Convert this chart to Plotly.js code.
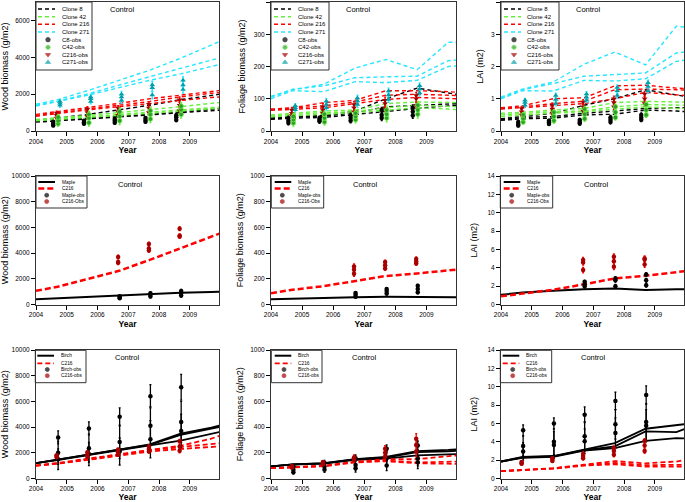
<!DOCTYPE html>
<html><head><meta charset="utf-8">
<script src="https://cdn.plot.ly/plotly-3.0.1.min.js"></script>
<style>html,body{margin:0;padding:0;background:#fff}</style>
</head><body><div id="chart" style="width:685px;height:502px"></div>
<script>
// ---------------- DATA ----------------
const modelYears = [2004, 2004.7, 2005.7, 2006.7, 2007.7, 2008.7, 2009.7, 2010];
const yearTicks = [2004, 2005, 2006, 2007, 2008, 2009];

const obsYearsC8   = [2004.56, 2005.56, 2006.56, 2007.56, 2008.56];
const obsYearsC216 = [2004.67, 2005.67, 2006.67, 2007.67, 2008.67];
const obsYearsC42  = [2004.72, 2005.72, 2006.72, 2007.72, 2008.72];
const obsYearsC271 = [2004.78, 2005.78, 2006.78, 2007.78, 2008.78];
const obsYearsMaple = [2006.72, 2007.72, 2008.72];
const obsYearsC216m = [2006.67, 2007.67, 2008.67];
const obsYearsBirch = [2004.72, 2005.72, 2006.72, 2007.72, 2008.72];
const obsYearsC216b = [2004.67, 2005.67, 2006.67, 2007.67, 2008.67];

// Row 1: clones (3 replicate model runs each)
const woodC8   = [[600,700,900,1150,1400,1700,1950,2000],[520,600,700,800,900,1050,1180,1220],[480,550,650,750,870,1000,1100,1130]];
const woodC42  = [[620,700,850,1000,1150,1320,1500,1550],[580,650,780,900,1020,1150,1270,1300],[550,620,740,850,960,1080,1210,1250]];
const woodC216 = [[900,1050,1300,1500,1750,1950,2150,2200],[850,1000,1200,1400,1600,1850,2050,2080],[800,950,1150,1320,1500,1680,1820,1850]];
const woodC271 = [[1450,1700,2200,2750,3300,3950,4650,4880],[1400,1620,2020,2500,2950,3400,3850,3980],[1350,1580,1950,2350,2750,3100,3500,3620]];
const woodObsC8   = [[300,400,500],[400,480,560],[450,550,650],[500,600,700],[600,750,850]];
const woodErrC8   = [60,60,70,70,90];
const woodObsC42  = [[400,550,750],[450,700,900],[550,800,1050],[650,900,1100],[900,1150,1350]];
const woodErrC42  = [150,180,200,200,200];
const woodObsC216 = [[700,850,980],[800,1000,1200],[850,1050,1250],[1000,1250,1450],[1100,1400,1700]];
const woodErrC216 = [100,120,120,130,150];
const woodObsC271 = [[1400,1500,1600],[1600,1750,1850],[1650,1850,2000],[1950,2350,2500],[2250,2500,2750]];
const woodErrC271 = [120,130,150,200,200];

const folC8   = [[40,45,48,62,100,133,118,113],[38,43,46,57,75,80,85,85],[36,40,42,52,62,70,78,80]];
const folC42  = [[50,55,62,65,85,90,88,88],[47,52,57,60,72,80,75,75],[44,48,52,57,65,72,68,66]];
const folC216 = [[68,72,88,95,125,125,122,120],[66,70,78,90,111,114,111,110],[64,68,72,85,98,104,102,100]];
const folC271 = [[108,127,145,195,222,190,275,275],[105,130,140,165,168,170,218,220],[100,125,122,153,150,157,200,202]];
const folObsC8   = [[25,32,40],[30,35,40],[32,40,48],[40,50,65],[48,60,72]];
const folErrC8   = [6,6,7,8,9];
const folObsC42  = [[25,35,45],[28,40,52],[35,45,55],[40,52,65],[52,65,80]];
const folErrC42  = [10,10,10,12,12];
const folObsC216 = [[48,55,65],[55,65,75],[60,72,82],[70,85,95],[80,100,110]];
const folErrC216 = [8,10,10,10,10];
const folObsC271 = [[66,72,78],[72,82,92],[82,93,102],[98,112,124],[118,130,140]];
const folErrC271 = [7,9,9,9,9];

const laiC8   = [[0.38,0.45,0.55,0.8,1.0,1.28,1.1,1.07],[0.35,0.42,0.45,0.55,0.62,0.7,0.72,0.72],[0.33,0.38,0.4,0.5,0.52,0.65,0.62,0.6]];
const laiC42  = [[0.55,0.58,0.65,0.7,0.88,0.92,0.9,0.9],[0.5,0.55,0.6,0.62,0.75,0.82,0.8,0.8],[0.45,0.5,0.55,0.6,0.68,0.75,0.7,0.7]];
const laiC216 = [[0.72,0.78,1.0,1.03,1.4,1.42,1.33,1.32],[0.7,0.75,0.85,0.92,1.28,1.3,1.28,1.27],[0.68,0.72,0.8,0.85,1.0,1.2,1.12,1.1]];
const laiC271 = [[1.05,1.3,1.52,2.07,2.45,2.05,3.25,3.22],[1.02,1.28,1.47,1.7,1.75,1.8,2.42,2.45],[1.0,1.25,1.24,1.57,1.55,1.62,2.16,2.2]];
const laiObsC8   = [[0.17,0.22,0.28],[0.22,0.27,0.32],[0.23,0.28,0.34],[0.28,0.35,0.42],[0.35,0.42,0.5]];
const laiErrC8   = [0.04,0.04,0.05,0.06,0.06];
const laiObsC42  = [[0.28,0.38,0.5],[0.32,0.45,0.58],[0.38,0.52,0.68],[0.42,0.58,0.75],[0.5,0.65,0.82]];
const laiErrC42  = [0.07,0.08,0.08,0.08,0.08];
const laiObsC216 = [[0.5,0.6,0.7],[0.55,0.68,0.8],[0.62,0.75,0.9],[0.75,0.88,1.0],[0.85,1.0,1.15]];
const laiErrC216 = [0.06,0.07,0.07,0.08,0.08];
const laiObsC271 = [[0.8,0.88,0.95],[0.85,0.98,1.1],[0.95,1.05,1.15],[1.1,1.25,1.35],[1.25,1.38,1.5]];
const laiErrC271 = [0.06,0.07,0.07,0.08,0.08];

// Row 2: Maple vs C216
const mapleWood = [400,480,600,730,830,920,980,1000];
const c216mWood = [1060,1380,2000,2620,3470,4380,5280,5550];
const mapleWoodObs = [[480,580,650],[620,750,880],[700,900,1050]];
const mapleWoodErr = [80,100,120];
const c216mWoodObs = [[3250,3300,3700],[4200,4350,4700],[5300,5350,5900]];
const c216mWoodErr = [150,150,150];
const mapleFol = [40,45,50,57,60,58,57,57];
const c216mFol = [88,115,143,185,222,242,265,272];
const mapleFolObs = [[60,75,90],[85,105,120],[95,120,145]];
const mapleFolErr = [10,12,12];
const c216mFolObs = [[240,270,295],[280,305,330],[320,335,355]];
const c216mFolErr = [20,15,15];
const mapleLai = [1.05,1.3,1.5,1.67,1.75,1.58,1.65,1.67];
const c216mLai = [0.9,1.22,1.6,2.2,2.84,3.13,3.5,3.64];
const mapleLaiObs = [[1.96,2.2,2.47],[2.0,2.65,2.84],[2.1,2.65,3.27]];
const mapleLaiErr = [0.15,0.2,0.2];
const c216mLaiObs = [[3.75,4.58,4.84],[4.1,4.7,5.2],[4.35,4.9,5.0]];
const c216mLaiErr = [0.3,0.3,0.3];

// Row 3: Birch vs C216
const birchWood = [[1200,1450,1850,2250,2650,3500,3950,4150],[1200,1450,1850,2250,2620,3400,3850,4030],[1200,1430,1820,2220,2580,2950,3450,3640]];
const c216bWood = [[1000,1200,1550,1900,2250,2550,3100,3350],[1000,1180,1500,1850,2200,2450,2650,2750],[1000,1150,1450,1800,2100,2300,2450,2500]];
const birchWoodObs = [[1500,2000,3200],[1900,2350,3900],[2100,2850,4800],[3050,4100,6400],[3700,4400,7100]];
const birchWoodErr = [[800,900,500],[900,1100,500],[1050,1300,700],[1450,1500,900],[1300,1600,1000]];
const c216bWoodObs = [[1650,1750,1800],[1700,1850,2050],[1850,2050,2250],[2100,2300,2500],[2150,2500,2900]];
const c216bWoodErr = [60,100,100,120,150];
const birchFol = [[95,110,120,150,168,212,222,228],[95,110,118,148,162,205,212,216],[95,108,115,145,155,180,188,190]];
const c216bFol = [[80,88,100,130,150,150,170,180],[80,87,98,128,140,125,130,132],[80,86,95,125,135,118,112,114]];
const birchFolObs = [[49,68,94],[68,94,120],[80,106,158],[101,158,231],[127,158,257]];
const birchFolErr = [[15,20,15],[20,20,20],[30,40,25],[40,55,30],[50,60,35]];
const c216bFolObs = [[85,92,98],[110,118,128],[145,155,164],[171,200,231],[210,260,309]];
const c216bFolErr = [8,10,20,25,40];
const birchLai = [[1.85,2.35,2.45,3.15,3.85,5.42,5.75,5.93],[1.85,2.3,2.4,3.1,3.5,5.13,5.05,5.42],[1.85,2.25,2.35,3.05,3.3,4.1,4.4,4.36]];
const c216bLai = [[0.8,0.95,1.12,1.5,1.9,1.65,1.85,2.05],[0.8,0.93,1.1,1.45,1.7,1.45,1.5,1.5],[0.8,0.9,1.08,1.4,1.55,1.3,1.28,1.3]];
const birchLaiObs = [[2.95,3.55,5.25],[3.65,4.0,6.0],[4.05,4.6,6.95],[4.95,5.9,8.45],[5.75,6.15,9.1]];
const birchLaiErr = [[0.95,1.1,0.6],[1.45,1.4,0.6],[1.35,1.6,0.85],[1.65,1.6,0.95],[1.75,2.0,1.0]];
const c216bLaiObs = [[1.6,1.7,1.8],[1.9,2.05,2.2],[2.2,2.45,2.7],[2.6,3.0,3.3],[3.0,3.6,4.1]];
const c216bLaiErr = [0.15,0.15,0.2,0.25,0.25];

const yTitles = ['Wood biomass (g/m2)','Foliage biomass (g/m2)','LAI (m2)'];
const yMax = [[7000,400,4],[10000,1000,14],[10000,1000,14]];
const yStep = [[2000,100,1],[2000,200,2],[2000,200,2]];
const panelLabel = 'Control';
const legendRow1 = ['Clone 8','Clone 42','Clone 216','Clone 271','C8-obs','C42-obs','C216-obs','C271-obs'];
const legendRow2 = ['Maple','C216','Maple-obs','C216-Obs'];
const legendRow3 = ['Birch','C216','Birch-obs','C216-obs'];

// ---------------- STYLE / LAYOUT ----------------
const W = 685, H = 502;
const BLACK = '#000000', GREEN = '#66f03c', RED = '#ff0000', CYAN = '#26e6ff';
const DKRED = '#a80000', TEAL = '#00a0a8', DKGREEN = '#2f9a2f';
const FONT = 'Liberation Sans, Arial, sans-serif';
const colsX = [[36,219],[271,456],[501,684]];
const rowsY = [[2,131],[176,304.5],[350,478.5]];
const P = px => px / W, Q = py => 1 - py / H;

function axId(n){ return n === 1 ? {x:'x', y:'y', xk:'xaxis', yk:'yaxis'} : {x:'x'+n, y:'y'+n, xk:'xaxis'+n, yk:'yaxis'+n}; }

const traces = [];
function lines(n, series, color, dash, width){
  const a = axId(n);
  series.forEach(s => traces.push({type:'scatter', mode:'lines', x:modelYears, y:s, xaxis:a.x, yaxis:a.y,
    line:{color:color, dash:dash, width:width}, hoverinfo:'skip', showlegend:false}));
}
function obs(n, xs, ys, errs, marker, ecolor){
  const a = axId(n); const X=[], Y=[], E=[];
  xs.forEach((x,i) => ys[i].forEach((v,j) => { X.push(x); Y.push(v); E.push(Array.isArray(errs[i]) ? errs[i][j] : errs[i]); }));
  traces.push({type:'scatter', mode:'markers', x:X, y:Y, xaxis:a.x, yaxis:a.y, marker:marker,
    error_y:{type:'data', array:E, visible:true, color:ecolor, thickness:1.3, width:1},
    hoverinfo:'skip', showlegend:false});
}
const D1 = '4px,3px';
const mkC8 = {symbol:'circle', size:4.5, color:BLACK};
const mkC42 = {symbol:'circle', size:4.5, color:DKGREEN, line:{color:GREEN, width:0.8}};
const mkC216 = {symbol:'triangle-down', size:5, color:DKRED};
const mkC271 = {symbol:'triangle-up', size:5, color:TEAL};
const mkBlk = {symbol:'circle', size:4.5, color:BLACK};
const mkRed = {symbol:'circle', size:4.5, color:DKRED};

// Panel 1-3
[[1,woodC8,woodC42,woodC216,woodC271,[woodObsC8,woodErrC8],[woodObsC42,woodErrC42],[woodObsC216,woodErrC216],[woodObsC271,woodErrC271]],
 [2,folC8,folC42,folC216,folC271,[folObsC8,folErrC8],[folObsC42,folErrC42],[folObsC216,folErrC216],[folObsC271,folErrC271]],
 [3,laiC8,laiC42,laiC216,laiC271,[laiObsC8,laiErrC8],[laiObsC42,laiErrC42],[laiObsC216,laiErrC216],[laiObsC271,laiErrC271]]
].forEach(p => {
  const n = p[0];
  lines(n, p[1], BLACK, D1, 1.4); lines(n, p[2], GREEN, D1, 1.4); lines(n, p[3], RED, D1, 1.4); lines(n, p[4], CYAN, D1, 1.4);
  obs(n, obsYearsC8, p[5][0], p[5][1], mkC8, BLACK);
  obs(n, obsYearsC216, p[7][0], p[7][1], mkC216, RED);
  obs(n, obsYearsC42, p[6][0], p[6][1], mkC42, GREEN);
  obs(n, obsYearsC271, p[8][0], p[8][1], mkC271, CYAN);
});
// Panel 4-6
[[4,mapleWood,c216mWood,mapleWoodObs,mapleWoodErr,c216mWoodObs,c216mWoodErr],
 [5,mapleFol,c216mFol,mapleFolObs,mapleFolErr,c216mFolObs,c216mFolErr],
 [6,mapleLai,c216mLai,mapleLaiObs,mapleLaiErr,c216mLaiObs,c216mLaiErr]].forEach(p => {
  lines(p[0], [p[1]], BLACK, 'solid', 2);
  lines(p[0], [p[2]], RED, '6px,3px', 2.5);
  obs(p[0], obsYearsMaple, p[3], p[4], mkBlk, BLACK);
  obs(p[0], obsYearsC216m, p[5], p[6], mkRed, RED);
});
// Panel 7-9
[[7,birchWood,c216bWood,birchWoodObs,birchWoodErr,c216bWoodObs,c216bWoodErr],
 [8,birchFol,c216bFol,birchFolObs,birchFolErr,c216bFolObs,c216bFolErr],
 [9,birchLai,c216bLai,birchLaiObs,birchLaiErr,c216bLaiObs,c216bLaiErr]].forEach(p => {
  lines(p[0], p[1], BLACK, 'solid', 1.8);
  lines(p[0], p[2], RED, '5px,3px', 1.8);
  obs(p[0], obsYearsBirch, p[3], p[4], mkBlk, BLACK);
  obs(p[0], obsYearsC216b, p[5], p[6], mkRed, RED);
});

const layout = {width:W, height:H, autosize:false, margin:{l:0,r:0,t:0,b:0,pad:0},
  paper_bgcolor:'#fff', plot_bgcolor:'rgba(0,0,0,0)', showlegend:false,
  font:{family:FONT, color:'#000'}, shapes:[], annotations:[]};

const ctrlPos = [[122,10],[358.5,10],[588,10],[130,184.3],[366,184.3],[596,184.3],[127,357.7],[364,357.7],[593,357.7]];
const ytStand = [[9,6,5],[6,5,8],[6,5,8]];
for (let r=0;r<3;r++) for (let c=0;c<3;c++){
  const n = r*3+c+1, a = axId(n);
  layout[a.xk] = {domain:[P(colsX[c][0]),P(colsX[c][1])], range:[2004,2009.95], anchor:a.y,
    tickvals:yearTicks, ticks:'outside', ticklen:4, tickwidth:1, tickcolor:'#000',
    showline:true, mirror:true, linecolor:'#333', linewidth:1, showgrid:false, zeroline:false,
    tickfont:{family:FONT,size:6.5,color:'#000'}, fixedrange:true,
    title:{text:'Year', font:{family:FONT,size:8.5,weight:'bold',color:'#000'}, standoff:3}};
  layout[a.yk] = {domain:[Q(rowsY[r][1]),Q(rowsY[r][0])], range:[0,yMax[r][c]], dtick:yStep[r][c], tick0:0, anchor:a.x,
    tickformat:'d', ticks:'outside', ticklen:4, tickwidth:1, tickcolor:'#000',
    showline:true, mirror:true, linecolor:'#333', linewidth:1, showgrid:false, zeroline:false,
    tickfont:{family:FONT,size:6.5,color:'#000'}, fixedrange:true,
    title:{text:yTitles[c], font:{family:FONT,size:9,color:'#000'}, standoff:ytStand[r][c]}};
  layout.annotations.push({xref:'paper', yref:'paper', x:P(ctrlPos[n-1][0]), y:Q(ctrlPos[n-1][1]),
    text:panelLabel, showarrow:false, xanchor:'center', yanchor:'middle', font:{family:FONT,size:7.5,color:'#000'}});
}

// ---------------- CUSTOM LEGENDS ----------------
layout.xaxis10 = {domain:[0,1], range:[0,W], visible:false, fixedrange:true, anchor:'y10'};
layout.yaxis10 = {domain:[0,1], range:[H,0], visible:false, fixedrange:true, anchor:'x10'};
const legMk = {x:[], y:[], symbol:[], color:[], lcolor:[], size:[]};
const legendSpecs = [
  {box:[36,92,2,70], line:[38,55], mk:48, tx:60, ys:[9,16.7,24.3,32,39.7,47.3,54.7,62.3], labels:legendRow1, fs:6, row:1},
  {box:[271,329,2,70], line:[274,291], mk:285, tx:295.5, ys:[9,16.7,24.3,32,39.7,47.3,54.7,62.3], labels:legendRow1, fs:6, row:1},
  {box:[501,559,2,70], line:[504,521], mk:514, tx:525, ys:[9,16.7,24.3,32,39.7,47.3,54.7,62.3], labels:legendRow1, fs:6, row:1},
  {box:[36,87,176,208], line:[38.3,55], mk:46.7, tx:60, ys:[182,188.5,195.2,201.5], labels:legendRow2, fs:4.8, row:2},
  {box:[271.3,323.7,176,208], line:[274.7,291.3], mk:282.3, tx:296.3, ys:[182,188.5,195.2,201.5], labels:legendRow2, fs:4.8, row:2},
  {box:[500.3,552.7,176,208], line:[503.7,520.3], mk:511.7, tx:525.3, ys:[182,188.5,195.2,201.5], labels:legendRow2, fs:4.8, row:2},
  {box:[35.3,86,350.3,382.7], line:[37.3,54], mk:47.3, tx:59.3, ys:[355.7,363.3,369.5,375.7], labels:legendRow3, fs:4.8, row:3},
  {box:[271.3,322,350.3,382.7], line:[274.7,291.3], mk:284, tx:296.3, ys:[355.7,363.3,369.5,375.7], labels:legendRow3, fs:4.8, row:3},
  {box:[500.3,551.7,350.3,382.7], line:[502.7,519.3], mk:512.7, tx:524.3, ys:[355.7,363.3,369.5,375.7], labels:legendRow3, fs:4.8, row:3}
];
const row1Items = [{l:BLACK},{l:GREEN},{l:RED},{l:CYAN},{m:mkC8},{m:mkC42},{m:mkC216},{m:mkC271}];
const row2Items = [{l:BLACK, solid:true, w:2},{l:RED, w:2.5, d:'6px,3px'},{m:mkBlk},{m:mkRed}];
const row3Items = [{l:BLACK, solid:true, w:2},{l:RED, w:1.8, d:'5px,3px'},{m:mkBlk},{m:mkRed}];
legendSpecs.forEach(s => {
  layout.shapes.push({type:'rect', xref:'paper', yref:'paper', x0:P(s.box[0]), x1:P(s.box[1]), y0:Q(s.box[3]), y1:Q(s.box[2]),
    line:{color:'#333', width:1}, fillcolor:'rgba(0,0,0,0)', layer:'above'});
  const items = s.row === 1 ? row1Items : (s.row === 2 ? row2Items : row3Items);
  items.forEach((it, i) => {
    const yy = s.ys[i];
    if (it.l) {
      layout.shapes.push({type:'line', xref:'paper', yref:'paper', x0:P(s.line[0]), x1:P(s.line[1]), y0:Q(yy), y1:Q(yy),
        line:{color:it.l, width:it.w || 1.4, dash: it.solid ? 'solid' : (it.d || D1)}, layer:'above'});
    } else {
      legMk.x.push(s.mk); legMk.y.push(yy); legMk.symbol.push(it.m.symbol);
      legMk.color.push(it.m.color); legMk.lcolor.push(it.m.line ? it.m.line.color : it.m.color);
      legMk.size.push(s.row === 1 ? 4.5 : 4);
    }
    layout.annotations.push({xref:'paper', yref:'paper', x:P(s.tx), y:Q(yy), text:s.labels[i], showarrow:false,
      xanchor:'left', yanchor:'middle', font:{family:FONT, size:s.fs, color:'#000'}});
  });
});
traces.push({type:'scatter', mode:'markers', x:legMk.x, y:legMk.y, xaxis:'x10', yaxis:'y10',
  marker:{symbol:legMk.symbol, color:legMk.color, size:legMk.size, line:{color:legMk.lcolor, width:0.8}},
  hoverinfo:'skip', showlegend:false});

Plotly.newPlot('chart', traces, layout, {staticPlot:true, displayModeBar:false});
</script></body></html>
